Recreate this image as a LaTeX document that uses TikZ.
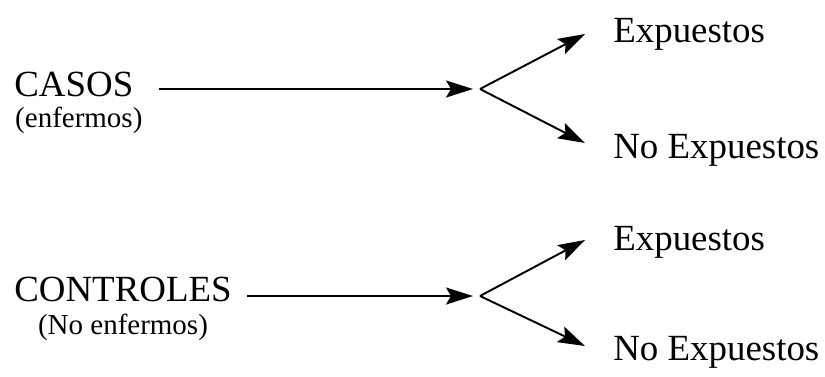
\documentclass[tikz,border=0pt]{standalone}
\usepackage{fontspec}
\setmainfont{Liberation Serif}
\usetikzlibrary{arrows.meta,positioning}

\begin{document}
\begin{tikzpicture}[
  x=0.02cm, y=-0.02cm,
  lbl/.style={inner sep=0pt, font=\fontsize{21}{25}\selectfont},
  sub/.style={inner sep=0pt, font=\fontsize{16.5}{20}\selectfont},
  arrow/.style={-{Stealth[length=0.54cm, width=0.34cm, inset=0.1cm]}, line width=1.1pt, black}
]
\useasboundingbox (0,0) rectangle (825,376);
% casos
\node[lbl, anchor=base west] (casos) at (14,96) {CASOS};
\node[sub, below=0.64cm of casos.base, anchor=base, xshift=0.1cm] (enfermos) {(enfermos)};
\coordinate (fork1) at (480,89);
\coordinate (up1) at (585,34);
\coordinate (dn1) at (585,143);
\node[lbl, anchor=base west] (exp1)   at (613,42)  {Expuestos};
\node[lbl, anchor=base west] (noexp1) at (613,158) {No Expuestos};
% controles
\node[lbl, anchor=base west] (controles) at (14,301) {CONTROLES};
\node[sub, below=0.66cm of controles.base, anchor=base] (noenfermos) {(No enfermos)};
\coordinate (fork2) at (480,296);
\coordinate (up2) at (585,240);
\coordinate (dn2) at (585,346);
\node[lbl, anchor=base west] (exp2)   at (613,250) {Expuestos};
\node[lbl, anchor=base west] (noexp2) at (613,360) {No Expuestos};
% flechas
\draw[arrow, shorten <=0.5cm, shorten >=0.14cm] (casos.east |- fork1) -- (fork1);
\draw[arrow] (fork1) -- (up1);
\draw[arrow] (fork1) -- (dn1);
\draw[arrow, shorten <=0.3cm, shorten >=0.14cm] (controles.east |- fork2) -- (fork2);
\draw[arrow] (fork2) -- (up2);
\draw[arrow] (fork2) -- (dn2);
\end{tikzpicture}
\end{document}
